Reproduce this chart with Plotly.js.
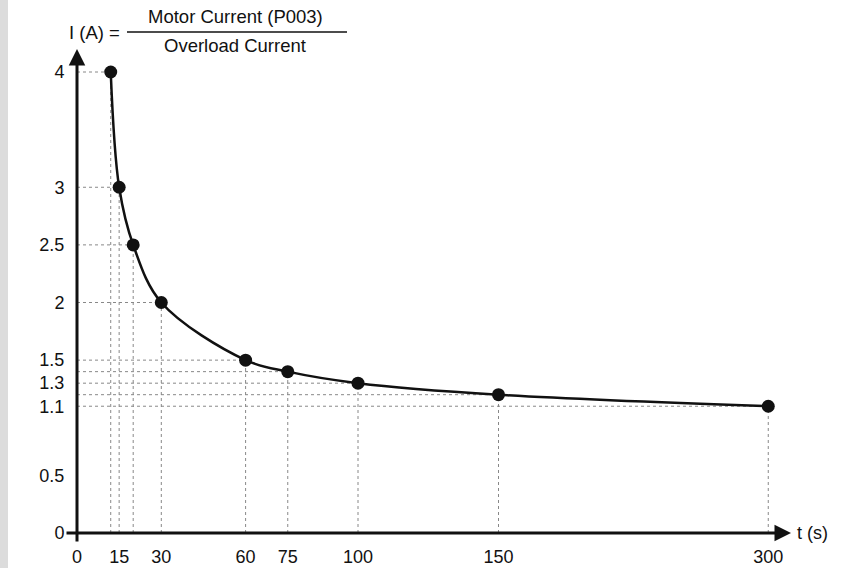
<!DOCTYPE html>
<html><head><meta charset="utf-8">
<script src="https://cdn.plot.ly/plotly-3.0.1.min.js"></script>
<style>html,body{margin:0;padding:0;background:#fff}</style>
</head><body><div id="chart" style="width:847px;height:568px"></div>
<script>
const timeSec = [12, 15, 20, 30, 60, 75, 100, 150, 300];
const currentRatio = [4, 3, 2.5, 2, 1.5, 1.4, 1.3, 1.2, 1.1];
const xTickValues = [0, 15, 30, 60, 75, 100, 150, 300];
const xTickLabels = ['0', '15', '30', '60', '75', '100', '150', '300'];
const yTickValues = [0, 0.5, 1.1, 1.3, 1.5, 2, 2.5, 3, 4];
const yTickLabels = ['0', '0.5', '1.1', '1.3', '1.5', '2', '2.5', '3', '4'];
const yMinorTicks = [0.5, 1.0];
const titleLeft = 'I (A) =';
const titleTop = 'Motor Current (P003)';
const titleBottom = 'Overload Current';
const xAxisLabel = 't (s)';

// broken time axis: linear up to 150 s, compressed beyond
function tpos(t) { return t <= 150 ? t : 150 + (t - 150) * 0.64; }

const W = 847, H = 568;
const M = {l: 77, r: 47, t: 40, b: 35};
const PW = W - M.l - M.r, PH = H - M.t - M.b;
const xMax = PW / 2.81;
const yMax = PH / 115.25;
const px2paperX = p => (p - M.l) / PW;
const px2paperY = p => (H - M.b - p) / PH;

const FONT = 'Liberation Sans, Arial, Helvetica, sans-serif';
const xs = timeSec.map(tpos);

const shapes = [];
// left gray strip
shapes.push({type: 'rect', xref: 'paper', yref: 'paper', x0: px2paperX(0), x1: px2paperX(8),
  y0: px2paperY(H), y1: px2paperY(0), fillcolor: '#dcdcdc', line: {width: 0}, layer: 'below'});
// dotted guide lines
xs.forEach((x, i) => {
  const v = currentRatio[i];
  shapes.push({type: 'line', xref: 'x', yref: 'y', x0: 0, x1: x, y0: v, y1: v,
    line: {color: '#888', width: 1, dash: 'dot'}, layer: 'below'});
  shapes.push({type: 'line', xref: 'x', yref: 'y', x0: x, x1: x, y0: 0, y1: v,
    line: {color: '#888', width: 1, dash: 'dot'}, layer: 'below'});
});
// small ticks on y axis
yMinorTicks.forEach(v => {
  shapes.push({type: 'line', xref: 'x', yref: 'y', xsizemode: 'pixel', xanchor: 0,
    x0: -5, x1: 0, y0: v, y1: v, line: {color: '#111', width: 2.5}});
});
// fraction bar of the title
shapes.push({type: 'line', xref: 'paper', yref: 'paper', x0: px2paperX(127), x1: px2paperX(347),
  y0: px2paperY(32), y1: px2paperY(32), line: {color: '#111', width: 1.3}});

const annotations = [
  // y axis with arrow
  {xref: 'x', yref: 'y', x: 0, y: (H - M.b - 49) / 115.25, ax: 0, ay: 494, axref: 'pixel', ayref: 'pixel',
    text: '', showarrow: true, arrowhead: 2, arrowsize: 1.1, arrowwidth: 3, arrowcolor: '#111', standoff: 0},
  // x axis with arrow
  {xref: 'x', yref: 'y', x: (791 - M.l) / 2.81, y: 0, ax: -(791 - 65), ay: 0,
    text: '', showarrow: true, arrowhead: 2, arrowsize: 1.1, arrowwidth: 3, arrowcolor: '#111', standoff: 0},
  {xref: 'paper', yref: 'y', x: px2paperX(795), y: 0, xanchor: 'left', yanchor: 'middle',
    text: xAxisLabel, showarrow: false, font: {family: FONT, size: 18, color: '#111'}},
  {xref: 'paper', yref: 'paper', x: px2paperX(94), y: px2paperY(33), xanchor: 'center', yanchor: 'middle',
    text: titleLeft, showarrow: false, font: {family: FONT, size: 18.5, color: '#111'}},
  {xref: 'paper', yref: 'paper', x: px2paperX(235), y: px2paperY(17), xanchor: 'center', yanchor: 'middle',
    text: titleTop, showarrow: false, font: {family: FONT, size: 18.5, color: '#111'}},
  {xref: 'paper', yref: 'paper', x: px2paperX(235), y: px2paperY(45), xanchor: 'center', yanchor: 'middle',
    text: titleBottom, showarrow: false, font: {family: FONT, size: 18.5, color: '#111'}}
];

const trace = {
  x: xs, y: currentRatio, type: 'scatter', mode: 'lines+markers',
  line: {color: '#111', width: 2.5, shape: 'spline', smoothing: 1},
  marker: {color: '#111', size: 13},
  cliponaxis: false, hoverinfo: 'skip'
};

const layout = {
  width: W, height: H, margin: M,
  paper_bgcolor: '#fff', plot_bgcolor: '#fff',
  showlegend: false,
  font: {family: FONT, size: 18, color: '#111'},
  xaxis: {range: [0, xMax], tickmode: 'array', tickvals: xTickValues.map(tpos), ticktext: xTickLabels,
    tickfont: {family: FONT, size: 18, color: '#111'},
    showgrid: false, zeroline: false, showline: false, ticks: 'outside', ticklen: 7,
    tickcolor: 'rgba(0,0,0,0)', fixedrange: true},
  yaxis: {range: [0, yMax], tickmode: 'array', tickvals: yTickValues, ticktext: yTickLabels,
    tickfont: {family: FONT, size: 18, color: '#111'},
    showgrid: false, zeroline: false, showline: false, ticks: 'outside', ticklen: 8,
    tickcolor: 'rgba(0,0,0,0)', fixedrange: true},
  shapes: shapes, annotations: annotations
};

Plotly.newPlot('chart', [trace], layout, {staticPlot: true, displayModeBar: false});
</script></body></html>
